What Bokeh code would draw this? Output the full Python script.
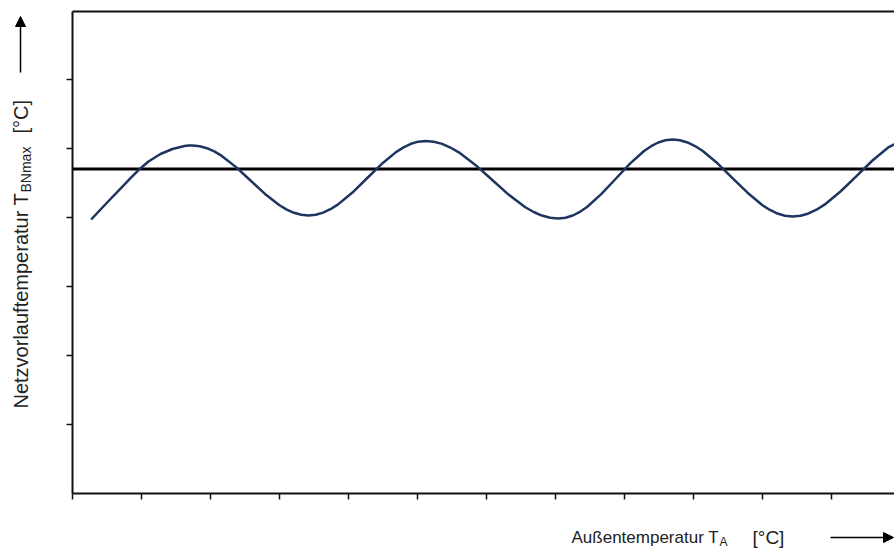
import math
from bokeh.plotting import figure
from bokeh.models import Range1d, LinearAxis, FixedTicker, Arrow, NormalHead
from bokeh.core.properties import value
from bokeh.embed import file_html
from bokeh.resources import INLINE

# ---- data (axis units: one tick step = 1) ----
x_ticks = list(range(0, 12))
y_ticks = list(range(1, 7))
x_max = 11.913
y_max = 6.986

curve_x = [0.271, 0.406, 0.551, 0.696, 0.841, 0.957, 1.101, 1.275, 1.449, 1.623,
           1.681, 1.739, 1.844, 1.949, 2.054, 2.159, 2.370, 2.580, 2.790, 3.000,
           3.105, 3.210, 3.315, 3.420, 3.526, 3.632, 3.738, 3.845, 4.057, 4.268,
           4.480, 4.693, 4.799, 4.904, 5.010, 5.116, 5.236, 5.357, 5.477, 5.599,
           5.839, 6.080, 6.320, 6.562, 6.683, 6.803, 6.923, 7.043, 7.146, 7.250,
           7.354, 7.457, 7.663, 7.870, 8.076, 8.283, 8.386, 8.489, 8.593, 8.696,
           8.804, 8.913, 9.022, 9.130, 9.348, 9.565, 9.783, 10.000, 10.109, 10.217,
           10.326, 10.435, 10.551, 10.667, 10.783, 10.899, 11.130, 11.362, 11.594,
           11.826, 12.058]
curve_y = [3.971, 4.116, 4.268, 4.420, 4.572, 4.688, 4.812, 4.920, 4.993, 5.036,
           5.042, 5.043, 5.033, 5.004, 4.958, 4.896, 4.730, 4.536, 4.342, 4.177,
           4.114, 4.068, 4.039, 4.029, 4.039, 4.070, 4.120, 4.187, 4.362, 4.569,
           4.775, 4.951, 5.017, 5.068, 5.099, 5.109, 5.099, 5.067, 5.014, 4.945,
           4.762, 4.547, 4.332, 4.149, 4.080, 4.028, 3.996, 3.986, 3.997, 4.029,
           4.083, 4.152, 4.339, 4.558, 4.777, 4.964, 5.033, 5.087, 5.119, 5.130,
           5.120, 5.088, 5.036, 4.968, 4.786, 4.572, 4.359, 4.177, 4.109, 4.057,
           4.025, 4.014, 4.026, 4.059, 4.113, 4.186, 4.377, 4.601, 4.826,
           5.017, 5.143]
ref_level = 4.703

x_title = "Außentemperatur T"
x_sub = "A"
y_title = "Netzvorlauftemperatur T"
y_sub = "BNmax"
unit = "[°C]"

FONT = "Liberation Sans"
TXT = "#222222"
AX = "#111111"

W, H = 894, 549
PX = 69.0          # pixels per axis unit
LEFT, BOTTOM = 72, 493


def dx(px):
    return (px - LEFT) / PX


def dy(py):
    return (BOTTOM - py) / PX


p = figure(width=W, height=H, output_backend="svg", toolbar_location=None,
           x_range=Range1d(dx(0), dx(W)), y_range=Range1d(dy(H), dy(0)),
           x_axis_location=None, y_axis_location=None,
           min_border_left=0, min_border_right=0, min_border_top=0, min_border_bottom=0)
p.outline_line_color = None
p.xgrid.visible = False
p.ygrid.visible = False
p.background_fill_color = "white"
p.border_fill_color = "white"


def make_axis(ticks, loc, bounds):
    ax = LinearAxis(fixed_location=loc, bounds=bounds)
    ax.ticker = FixedTicker(ticks=ticks)
    ax.major_tick_in = 0
    ax.major_tick_out = 6 if ticks else 0
    ax.minor_tick_line_color = None
    ax.major_tick_line_color = AX
    ax.major_tick_line_width = 1.5
    ax.axis_line_color = AX
    ax.axis_line_width = 2
    ax.major_label_overrides = {t: "" for t in ticks}
    ax.major_label_standoff = 0
    return ax


p.add_layout(make_axis(x_ticks, 0, (0, x_max + 1)), "below")
p.add_layout(make_axis(y_ticks, 0, (0, y_max)), "left")
p.add_layout(make_axis([], y_max, (0, x_max + 1)), "above")

p.line(x=[0, x_max + 1], y=[ref_level, ref_level], line_color="black", line_width=3)
p.line(x=curve_x, y=curve_y, line_color="#1f3560", line_width=2.5, line_join="round")

# y-axis title (rotated pieces)
p.text(x=[dx(20)], y=[dy(408)], text=[y_title], angle=math.pi / 2,
       text_font=value(FONT), text_font_size="20px", text_color=TXT,
       text_align="left", text_baseline="middle")
p.text(x=[dx(25)], y=[dy(192)], text=[y_sub], angle=math.pi / 2,
       text_font=value(FONT), text_font_size="14px", text_color=TXT,
       text_align="left", text_baseline="middle")
p.text(x=[dx(20)], y=[dy(133)], text=[unit], angle=math.pi / 2,
       text_font=value(FONT), text_font_size="20px", text_color=TXT,
       text_align="left", text_baseline="middle")
p.add_layout(Arrow(end=NormalHead(size=10, fill_color="black", line_color="black"),
                   x_start=dx(20), y_start=dy(72), x_end=dx(20), y_end=dy(16),
                   line_color="black", line_width=1.5))

# x-axis title pieces
p.text(x=[dx(571)], y=[dy(537)], text=[x_title],
       text_font=value(FONT), text_font_size="17px", text_color=TXT,
       text_align="left", text_baseline="middle")
p.text(x=[dx(719)], y=[dy(541)], text=[x_sub],
       text_font=value(FONT), text_font_size="12px", text_color=TXT,
       text_align="left", text_baseline="middle")
p.text(x=[dx(752)], y=[dy(537)], text=[unit],
       text_font=value(FONT), text_font_size="19px", text_color=TXT,
       text_align="left", text_baseline="middle")
p.add_layout(Arrow(end=NormalHead(size=10, fill_color="black", line_color="black"),
                   x_start=dx(830), y_start=dy(537), x_end=dx(893), y_end=dy(537),
                   line_color="black", line_width=1.5))

open("out.html", "w").write(file_html(p, INLINE))
